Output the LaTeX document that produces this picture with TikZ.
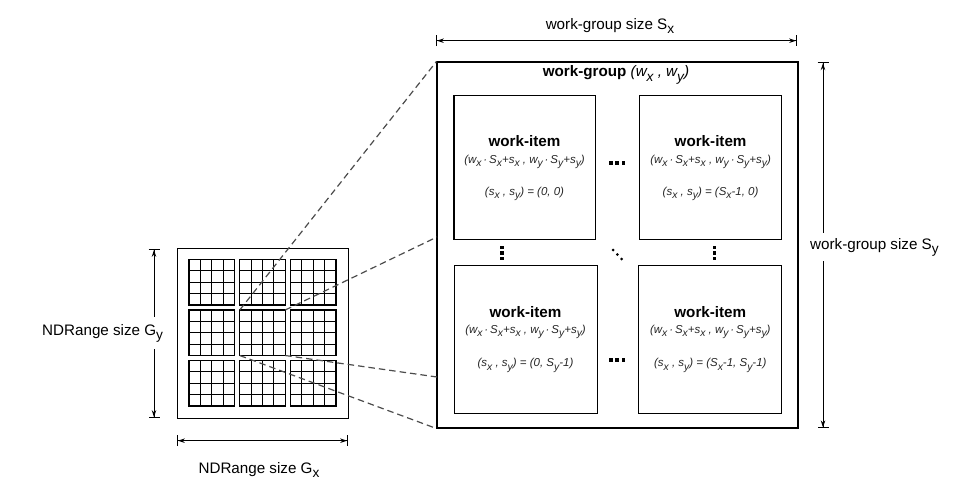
\documentclass[tikz,border=0pt]{standalone}
\usepackage{fontspec}
\setmainfont{Liberation Sans}
\usepackage{graphicx}
\usetikzlibrary{arrows.meta,calc}
\newcommand\dn[1]{\raisebox{-0.55ex}{\scalebox{0.9}{#1}}}
\begin{document}
\begin{tikzpicture}[x=1pt,y=-1pt,
  boxline/.style={draw=black, line width=1.05pt},
  gridline/.style={draw=black, line width=1.05pt},
  dashline/.style={draw=black!70, line width=1.2pt, dash pattern=on 6.5pt off 4pt},
  dimarrow/.style={draw=black, line width=0.9pt,
    {Bar[width=11pt,line width=0.9pt]Stealth[length=7pt,width=4.5pt]}-{Stealth[length=7pt,width=4.5pt]Bar[width=11pt,line width=0.9pt]}},
  lbl/.style={font=\fontsize{15.2}{17}\selectfont, inner sep=0pt},
  wititle/.style={font=\fontsize{15.2}{17}\selectfont\bfseries, anchor=base, inner sep=0pt},
  wisub/.style={font=\fontsize{11.5}{13}\selectfont\itshape, text=black!85, anchor=base, inner sep=0pt},
  dotfill/.style={fill=black}
]
\useasboundingbox (0,0) rectangle (977,500);

% ---------- NDRange ----------
\node[boxline, minimum width=171pt, minimum height=169.5pt, inner sep=0pt] (nd) at (262.75,333.5) {};
\foreach \bx in {189,239.75,290.5}{
  \foreach \by in {259.5,310,360.5}{
    \foreach \i in {0,1,2,3,4}{
      \draw[gridline, line cap=rect] (\bx+\i*11.375,\by) -- ++(0,45.5);
      \draw[gridline, line cap=rect] (\bx,\by+\i*11.375) -- ++(45.5,0);
    }
  }
}
\node[minimum width=45.5pt, minimum height=45.5pt, inner sep=0pt, outer sep=0pt] (b22) at (262.5,332.75) {};

% ---------- work-group ----------
\node[boxline, minimum width=361pt, minimum height=366pt, inner sep=0pt] (wg) at (617.5,245) {};
\node[anchor=base, inner sep=0pt, font=\fontsize{15.2}{17}\selectfont] (wgt) at (616,77)
  {\textbf{work-group} {\itshape (w\dn{x} , w\dn{y})}};

\node[boxline, minimum width=141.5pt, minimum height=144pt, inner sep=0pt] (wi1) at (524.75,167.4) {};
\node[boxline, minimum width=142.7pt, minimum height=144pt, inner sep=0pt] (wi2) at (710.6,167.4) {};
\node[boxline, minimum width=143pt, minimum height=148.3pt, inner sep=0pt] (wi3) at (525.8,339.2) {};
\node[boxline, minimum width=143.3pt, minimum height=148.3pt, inner sep=0pt] (wi4) at (710.3,339.2) {};

\node[wititle] (t1) at (524.5,146.7) {work-item};
\node[wisub] (u1) at (524.5,163.3) {(w\dn{x}\,·\,S\dn{x}+s\dn{x} , w\dn{y}\,·\,S\dn{y}+s\dn{y})};
\node[wisub] (v1) at (524.5,195) {(s\dn{x} , s\dn{y}) = (0, 0)};

\node[wititle] (t2) at (710.6,146.7) {work-item};
\node[wisub] (u2) at (710.6,163.3) {(w\dn{x}\,·\,S\dn{x}+s\dn{x} , w\dn{y}\,·\,S\dn{y}+s\dn{y})};
\node[wisub] (v2) at (710.6,195) {(s\dn{x} , s\dn{y}) = (S\dn{x}-1, 0)};

\node[wititle] (t3) at (525.5,317.7) {work-item};
\node[wisub] (u3) at (525.5,333.3) {(w\dn{x}\,·\,S\dn{x}+s\dn{x} , w\dn{y}\,·\,S\dn{y}+s\dn{y})};
\node[wisub] (v3) at (525.5,366.7) {(s\dn{x} , s\dn{y}) = (0, S\dn{y}-1)};

\node[wititle] (t4) at (710.3,317.7) {work-item};
\node[wisub] (u4) at (710.3,333.3) {(w\dn{x}\,·\,S\dn{x}+s\dn{x} , w\dn{y}\,·\,S\dn{y}+s\dn{y})};
\node[wisub] (v4) at (710.3,366.7) {(s\dn{x} , s\dn{y}) = (S\dn{x}-1, S\dn{y}-1)};

% dots
\foreach \y in {162.7,360}{
  \foreach \x in {610.7,617,623.3}{ \fill[dotfill] (\x-1.8,\y-1.8) rectangle ++(3.6,3.6); }
}
\foreach \x in {502,714.3}{
  \foreach \y in {247.5,253,258.5}{ \fill[dotfill] (\x-1.7,\y-1.7) rectangle ++(3.4,3.4); }
}
\foreach \x/\y in {613/250,617.3/254.5,621.6/259}{ \fill[dotfill] (\x,\y) circle (1.5pt); }

% ---------- dashed zoom lines ----------
\coordinate (c2) at (437,237);
\coordinate (c3) at (437,377);
\draw[dashline] (b22.north west) -- (wg.north west);
\draw[dashline] (b22.north east) -- (c2);
\draw[dashline] (b22.south east) -- (c3);
\draw[dashline] (b22.south west) -- (wg.south west);

% ---------- dimension arrows ----------
\coordinate (sxa) at (436,40.7);
\coordinate (sxb) at (797,40.7);
\draw[dimarrow] (sxa) -- (sxb);
\node[lbl, anchor=base] (sxl) at (610,29.3) {work-group size S\dn{x}};

\coordinate (sya) at (823,62.3);
\coordinate (syb) at (823,428.3);
\draw[dimarrow] (sya) -- (syb);
\node[lbl, anchor=base west, fill=white, inner xsep=2pt, inner ysep=5pt] (syl) at (808,249) {work-group size S\dn{y}};

\coordinate (gya) at (154,249);
\coordinate (gyb) at (154,418);
\draw[dimarrow] (gya) -- (gyb);
\node[lbl, anchor=base west, fill=white, inner xsep=3pt, inner ysep=7pt] (gyl) at (39,335) {NDRange size G\dn{y}};

\coordinate (gxa) at (177,440.7);
\coordinate (gxb) at (348,440.7);
\draw[dimarrow] (gxa) -- (gxb);
\node[lbl, anchor=base] (gxl) at (259,473) {NDRange size G\dn{x}};
\end{tikzpicture}
\end{document}
